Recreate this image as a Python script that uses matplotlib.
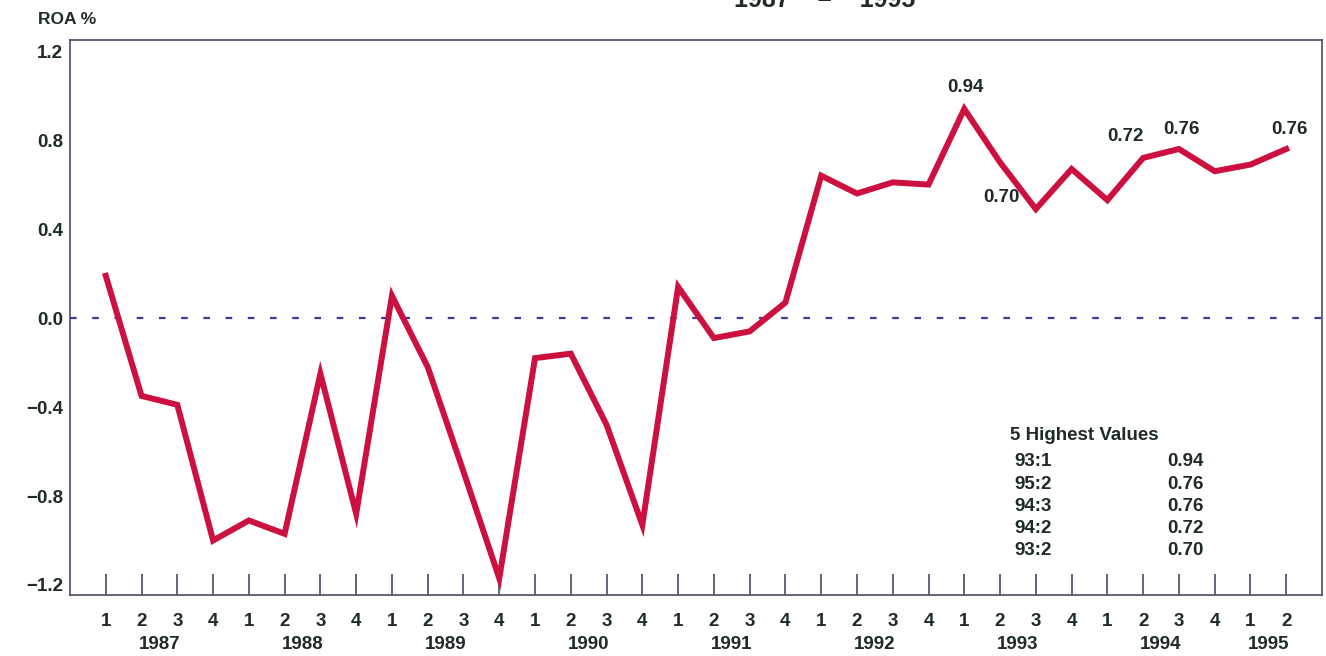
import numpy as np
import matplotlib.pyplot as plt

plt.rcParams['font.family'] = ['Liberation Sans', 'DejaVu Sans']
plt.rcParams['font.weight'] = 'bold'

# quarterly ROA, 1987:1 .. 1995:2
years = ['1987', '1988', '1989', '1990', '1991', '1992', '1993', '1994', '1995']
quarters = ['1', '2', '3', '4'] * 8 + ['1', '2']
roa = [0.19, -0.35, -0.39, -1.00,
       -0.91, -0.97, -0.25, -0.88,
       0.10, -0.22, -0.69, -1.17,
       -0.18, -0.16, -0.48, -0.93,
       0.14, -0.09, -0.06, 0.07,
       0.64, 0.56, 0.61, 0.60,
       0.94, 0.70, 0.49, 0.67,
       0.53, 0.72, 0.76, 0.66,
       0.69, 0.76]

top5_lbl = ['93:1', '95:2', '94:3', '94:2', '93:2']
top5_val = [0.94, 0.76, 0.76, 0.72, 0.70]

txt = '#1f2a2a'
frame = '#4a4a66'
fs = 13.5

fig = plt.figure(figsize=(13.26, 6.56), dpi=100)
ax = fig.add_axes([70/1326, 1 - 595/656, 1252/1326, 555/656])

x = np.arange(len(roa))
ax.plot(x, roa, color='#cc1040', lw=4.3, solid_joinstyle='miter', zorder=3)
ax.axhline(0, color='#3b3b9a', lw=1.6, dashes=(3, 7), zorder=2)

ax.set_xlim(-1, len(roa))
ax.set_ylim(-1.245, 1.25)

ax.set_yticks([-1.2, -0.8, -0.4, 0.0, 0.4, 0.8, 1.2])
ax.set_yticklabels(['\u22121.2', '\u22120.8', '\u22120.4', '0.0', '0.4', '0.8', '1.2'])
ax.tick_params(axis='y', length=0, pad=5, labelsize=fs, labelcolor=txt)

ax.set_xticks(x)
ax.set_xticklabels(quarters)
ax.tick_params(axis='x', direction='in', length=15, width=1.2, color=frame,
               pad=13, labelsize=fs, labelcolor=txt)

for s in ax.spines.values():
    s.set_color(frame)
    s.set_linewidth(1.2)

# year labels centred under their quarters
for i, yr in enumerate(years):
    n = 4 if i < len(years) - 1 else 2
    xc = i * 4 + (n - 1) / 2
    ax.annotate(yr, xy=(xc, 0), xycoords=('data', 'axes fraction'),
                xytext=(0, -35.5), textcoords='offset points',
                ha='center', va='center', fontsize=fs, color=txt)

# value labels on the peaks
ax.annotate('0.94', xy=(24, 0.94), xytext=(1, 9), textcoords='offset points',
            ha='center', va='bottom', fontsize=fs, color=txt)
ax.annotate('0.70', xy=(25, 0.70), xytext=(1, -25), textcoords='offset points',
            ha='center', va='center', fontsize=fs, color=txt)
ax.annotate('0.72', xy=(29, 0.72), xytext=(-13, 9), textcoords='offset points',
            ha='center', va='bottom', fontsize=fs, color=txt)
ax.annotate('0.76', xy=(30, 0.76), xytext=(2, 8), textcoords='offset points',
            ha='center', va='bottom', fontsize=fs, color=txt)
ax.annotate('0.76', xy=(33, 0.76), xytext=(2, 8), textcoords='offset points',
            ha='center', va='bottom', fontsize=fs, color=txt)

# table of the five highest values
fig.text(1010/1326, 1 - 436/656, '5 Highest Values', ha='left', va='center',
         fontsize=fs, color=txt)
for k, (lb, v) in enumerate(zip(top5_lbl, top5_val)):
    yy = 1 - (462 + k * 22.2) / 656
    fig.text(1014/1326, yy, lb, ha='left', va='center', fontsize=fs, color=txt)
    fig.text(1204/1326, yy, f'{v:.2f}', ha='right', va='center', fontsize=fs, color=txt)

fig.text(38/1326, 1 - 20/656, 'ROA %', ha='left', va='center', fontsize=12.5, color=txt)
fig.text(825/1326, 1 - 7/656, '1987    \u2013    1995', ha='center', va='baseline',
         fontsize=18, color=txt)

fig.savefig('out.png', dpi=100)
